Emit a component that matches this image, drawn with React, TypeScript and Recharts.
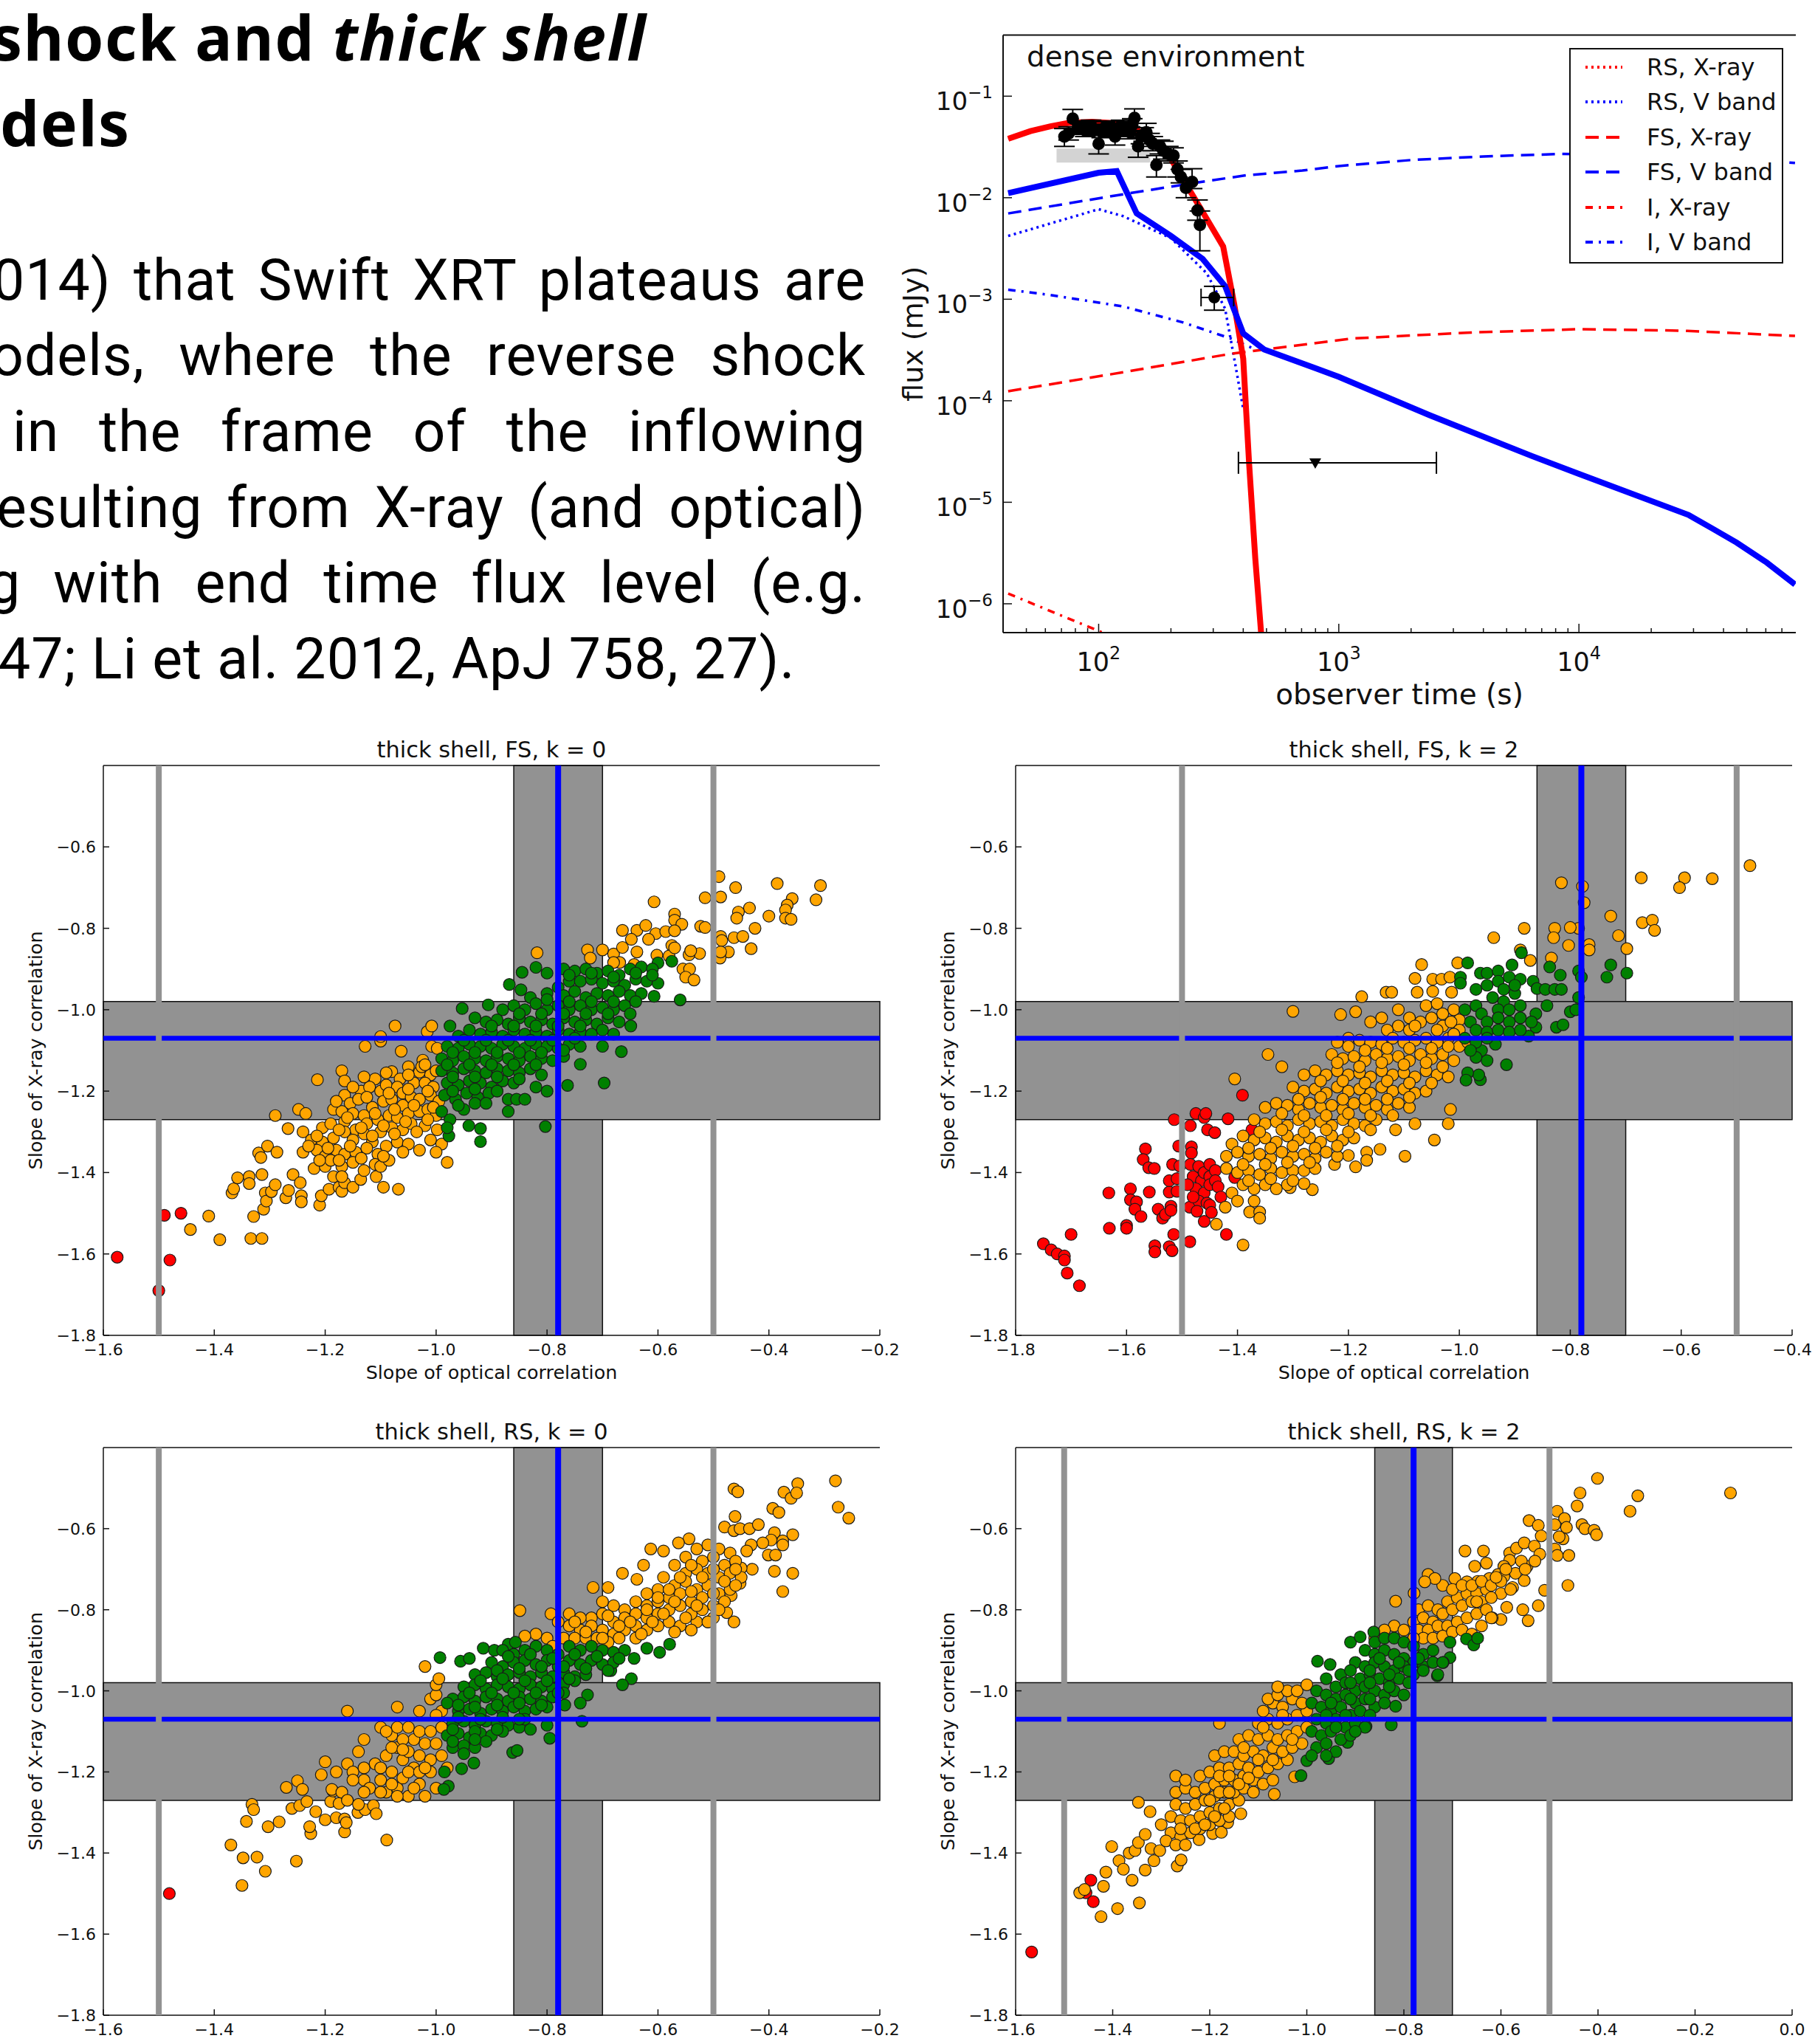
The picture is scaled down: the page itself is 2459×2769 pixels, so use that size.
// Slide: flux light curve plus four slope-correlation scatter panels
import {
  ComposedChart, Line, Scatter, ErrorBar, XAxis, YAxis, ReferenceArea, ReferenceLine, Legend
} from 'recharts';

// ---- light curve (observer time, flux) ----
const timeMajor = [100, 1000, 10000];
const timeTicks = [50, 60, 70, 80, 90, 100, 200, 300, 400, 500, 600, 700, 800, 900, 1000, 2000, 3000, 4000, 5000, 6000, 7000, 8000, 9000, 10000, 20000, 30000, 40000, 50000, 60000, 70000];
const fluxTicks = [1e-6, 1e-5, 1e-4, 1e-3, 1e-2, 1e-1];

const rsXrayT = [42, 52, 63, 75, 94, 120, 141, 200, 267, 330, 367, 400, 423, 449, 475];
const rsXrayF = [0.038, 0.0453, 0.0505, 0.0545, 0.056, 0.054, 0.049, 0.024, 0.0077, 0.0033, 0.00089, 0.00026, 2.45e-5, 2.8e-6, 5.1e-7];
const totalVT = [42, 100, 119, 144, 200, 271, 336, 400, 489, 1000, 2390, 6380, 10000, 28600, 36000, 45400, 60500, 79400];
const totalVF = [0.0111, 0.0176, 0.0183, 0.007, 0.0042, 0.0025, 0.00135, 0.00046, 0.00032, 0.000172, 7.2e-5, 2.85e-5, 1.9e-5, 7.5e-6, 5.5e-6, 4e-6, 2.55e-6, 1.55e-6];
const fsVT = [42, 117, 251, 410, 705, 1000, 2000, 4000, 8500, 30000, 79400];
const fsVF = [0.007, 0.0105, 0.014, 0.0166, 0.0185, 0.0205, 0.0235, 0.0255, 0.027, 0.026, 0.022];
const fsXT = [42, 112, 355, 1130, 3550, 10000, 27000, 79400];
const fsXF = [1.24e-4, 1.82e-4, 2.9e-4, 4.1e-4, 4.7e-4, 5.07e-4, 4.9e-4, 4.35e-4];
const rsVT = [42, 100, 126, 200, 282, 336, 367, 400];
const rsVF = [0.0042, 0.0077, 0.0066, 0.004, 0.0018, 0.00081, 0.00026, 8.3e-5];
const iVT = [42, 63, 126, 225, 355, 450];
const iVF = [0.00124, 0.0011, 0.00085, 0.00059, 0.00041, 0.00032];
const iXT = [42, 106, 130];
const iXF = [1.26e-6, 5.1e-7, 3.5e-7];

const obsTime = [72, 75, 78, 82, 85, 88, 90, 93, 96, 100, 103, 106, 110, 113, 117, 120, 124, 128, 131, 135, 138, 141, 146, 150, 154, 158, 163, 168, 174, 180, 186, 195, 205, 213, 220, 231, 245, 258, 264];
const obsFlux = [0.04, 0.043, 0.06, 0.048, 0.05, 0.046, 0.049, 0.051, 0.047, 0.034, 0.045, 0.049, 0.046, 0.05, 0.04, 0.047, 0.051, 0.046, 0.049, 0.044, 0.052, 0.061, 0.032, 0.04, 0.042, 0.044, 0.037, 0.034, 0.021, 0.032, 0.029, 0.027, 0.026, 0.019, 0.016, 0.0125, 0.0143, 0.0075, 0.0054];
const obsDown = [0.008, 0.006, 0.012, 0.006, 0.006, 0.006, 0.006, 0.006, 0.006, 0.007, 0.006, 0.006, 0.006, 0.006, 0.007, 0.006, 0.006, 0.006, 0.006, 0.006, 0.007, 0.012, 0.007, 0.006, 0.006, 0.006, 0.005, 0.005, 0.005, 0.005, 0.005, 0.004, 0.004, 0.003, 0.002, 0.0025, 0.002, 0.0015, 0.0024];
const obsUp = [0.008, 0.007, 0.014, 0.007, 0.007, 0.006, 0.007, 0.007, 0.006, 0.008, 0.006, 0.007, 0.006, 0.007, 0.007, 0.007, 0.007, 0.006, 0.007, 0.006, 0.008, 0.014, 0.007, 0.006, 0.007, 0.01, 0.006, 0.006, 0.005, 0.005, 0.007, 0.005, 0.005, 0.004, 0.003, 0.003, 0.005, 0.002, 0.002];
const lateObs = [{ t: 303, f: 0.00104, fErr: [0.00026, 0.0003], tErr: [36, 62] }];
const upperLimit = [{ t: 798, f: 2.45e-5, tErr: [416, 1752] }];

const legendLabels = ['RS, X-ray', 'RS, V band', 'FS, X-ray', 'FS, V band', 'I, X-ray', 'I, V band'];
const legendColors = ['#ff0000', '#0000ff', '#ff0000', '#0000ff', '#ff0000', '#0000ff'];
const dotted = '3 5';
const dashed = '18 10';
const dashDot = '10 8 3 8';
const legendDashes = [dotted, dotted, dashed, dashed, dashDot, dashDot];

// ---- scatter panels: flat x,y lists ----
const fsK0Red = [-1.575,-1.608,-1.49,-1.505,-1.46,-1.5,-1.48,-1.615,-1.5,-1.69];
const fsK0Orange = [-.49,-.673,-.46,-.7,-.385,-.69,-.307,-.695,-.515,-.725,-.487,-.723,-.358,-.727,-.367,-.743,-.315,-.73,-.607,-.735,-.435,-.75,-.455,-.76,-.458,-.775,-.4,-.77,-.37,-.755,-.37,-.775,-.36,-.778,-.57,-.765,-.57,-.78,-.557,-.79,-.523,-.795,-.515,-.798,-.425,-.8,-.487,-.82,-.485,-.83,-.463,-.823,-.447,-.82,-.432,-.85,-.473,-.858,-.488,-.873,-.487,-.858,-.525,-.862,-.544,-.865,-.541,-.855,-.555,-.9,-.543,-.9,-.55,-.92,-.535,-.927,
-.664,-.805,-.638,-.805,-.622,-.793,-.604,-.813,-.586,-.808,-.57,-.806,-.7,-.853,-.727,-.853,-.722,-.873,-.68,-.863,-.664,-.847,-.648,-.827,-.638,-.858,-.602,-.866,-.575,-.842,-.58,-.868,-.643,-.889,-.669,-.884,-.68,-.884,-.57,-.848,-.818,-.86,-.617,-.827,
-1.41,-1.507,-1.443,-1.54,-1.39,-1.565,-1.334,-1.562,-1.314,-1.562,-1.329,-1.508,-1.311,-1.49,-1.368,-1.45,-1.365,-1.44,-1.358,-1.413,-1.337,-1.41,-1.337,-1.427,-1.314,-1.405,-1.308,-1.45,-1.306,-1.47,-1.297,-1.447,-1.29,-1.43,-1.32,-1.352,-1.316,-1.363,-1.304,-1.335,-1.287,-1.35,-1.29,-1.26,-1.267,-1.292,-1.248,-1.245,-1.235,-1.255,-1.214,-1.172,-1.271,-1.462,-1.266,-1.444,-1.258,-1.405,-1.245,-1.425,-1.243,-1.457,-1.243,-1.472,-1.21,-1.48,-1.207,-1.457,-1.193,-1.441,-1.175,-1.436,-1.17,-1.446,-1.165,-1.425,-1.15,-1.436,-1.136,-1.417,-1.108,-1.41,-1.095,-1.436,-1.068,-1.441,
-1.17,-1.15,-1.165,-1.175,-1.135,-1.2,-1.11,-1.17,-1.08,-1.152,-1.065,-1.17,-1.05,-1.14,-1.03,-1.153,-1.01,-1.16,-1,-1.15,-1.165,-1.21,-1.155,-1.23,-1.14,-1.22,-1.12,-1.19,-1.1,-1.2,-1.09,-1.185,-1.07,-1.19,-1.06,-1.205,-1.04,-1.18,-1.02,-1.18,-1.005,-1.19,-1.185,-1.245,-1.17,-1.25,-1.15,-1.255,-1.13,-1.26,-1.115,-1.24,-1.095,-1.225,-1.08,-1.22,-1.06,-1.235,-1.045,-1.215,-1.03,-1.22,-1.01,-1.21,-.995,-1.225,-1.205,-1.29,-1.19,-1.28,-1.165,-1.275,-1.145,-1.295,-1.125,-1.28,-1.105,-1.27,-1.085,-1.26,-1.07,-1.265,-1.05,-1.255,-1.03,-1.25,-1.015,-1.245,-1,-1.26,-1.24,-1.3,-1.225,-1.32,-1.205,-1.325,-1.185,-1.315,-1.165,-1.3,-1.15,-1.32,-1.13,-1.305,-1.115,-1.325,-1.1,-1.3,-1.08,-1.29,-1.06,-1.295,-1.045,-1.28,-1.02,-1.285,-.998,-1.295,-1.24,-1.35,-1.215,-1.345,-1.2,-1.36,-1.18,-1.345,-1.165,-1.355,-1.145,-1.35,-1.125,-1.34,-1.105,-1.355,-1.09,-1.335,-1.07,-1.325,-1.05,-1.33,-1.03,-1.345,-1.01,-1.32,-.99,-1.33,-1,-1.35,-.98,-1.375,-1.22,-1.39,-1.2,-1.385,-1.185,-1.41,-1.17,-1.385,-1.15,-1.375,-1.13,-1.395,-1.11,-1.38,-1.1,-1.385,-1.085,-1.37,-1.19,-1.37,-1.17,-1.41,
-1.128,-1.09,-1.1,-1.077,-1.1,-1.066,-1.074,-1.04,-1.063,-1.102,-1.016,-1.054,-1.008,-1.04,-1.008,-1.09,-.998,-1.095,-1.024,-1.124,-1.026,-1.14,
-1.15,-1.19,-1.13,-1.165,-1.09,-1.155,-1.05,-1.16,-1.02,-1.135,-1.18,-1.225,-1.125,-1.215,-1.085,-1.205,-1.05,-1.195,-1.015,-1.2,-1.16,-1.265,-1.11,-1.255,-1.075,-1.245,-1.04,-1.235,-1.005,-1.24,-1.215,-1.31,-1.175,-1.295,-1.135,-1.29,-1.095,-1.285,-1.055,-1.275,-1.015,-1.27,-1.23,-1.335,-1.195,-1.34,-1.155,-1.335,-1.115,-1.31,-1.075,-1.305,-1.035,-1.3,-1.21,-1.37,-1.175,-1.37,-1.135,-1.365,-1.095,-1.36,-1.06,-1.35];
const fsK0Green = [-.803,-1.287,-.92,-1.292,-.92,-1.324,-.941,-1.285,-.977,-1.31,-.868,-.938,-.845,-.908,-.82,-.896,-.847,-.951,-.8,-.91,-.56,-.976,-.575,-.881,-.6,-.885,-.607,-.967,-.649,-1.04,-.666,-1.103,-.697,-1.18,-.7,-1.09,-.763,-1.186,-.8,-1.2,-.74,-1.134,-.953,-.997,-.975,-1.04,-.906,-.988,
-.77,-.9,-.75,-.905,-.73,-.9,-.71,-.91,-.69,-.905,-.67,-.915,-.65,-.9,-.63,-.895,-.61,-.9,-.76,-.93,-.74,-.93,-.72,-.925,-.7,-.935,-.68,-.93,-.66,-.94,-.64,-.925,-.62,-.93,-.6,-.935,-.78,-.945,-.83,-.97,-.8,-.96,-.77,-.965,-.75,-.955,-.73,-.97,-.71,-.96,-.69,-.965,-.67,-.955,-.65,-.965,-.63,-.96,-.88,-1,-.86,-.99,-.84,-1,-.82,-.985,-.8,-1,-.78,-.99,-.76,-1,-.74,-.99,-.72,-1,-.7,-.995,-.68,-1,-.66,-.99,-.65,-1.01,-.93,-1.02,-.91,-1.03,-.89,-1.025,-.87,-1.035,-.85,-1.02,-.83,-1.03,-.81,-1.025,-.79,-1.035,-.77,-1.02,-.75,-1.03,-.73,-1.025,-.71,-1.035,-.69,-1.02,-.67,-1.03,-.96,-1.065,-.94,-1.05,-.92,-1.06,-.9,-1.055,-.88,-1.065,-.86,-1.05,-.84,-1.06,-.82,-1.055,-.8,-1.065,-.78,-1.05,-.76,-1.06,-.74,-1.055,-.72,-1.06,-.68,-1.06,-.98,-1.09,-.96,-1.095,-.94,-1.085,-.92,-1.09,-.9,-1.095,-.88,-1.085,-.86,-1.09,-.84,-1.095,-.82,-1.085,-.8,-1.09,-.78,-1.095,-.76,-1.085,-.74,-1.09,-.99,-1.12,-.97,-1.125,-.95,-1.115,-.93,-1.12,-.91,-1.125,-.89,-1.115,-.87,-1.12,-.85,-1.125,-.83,-1.115,-.81,-1.12,-.79,-1.125,-.77,-1.115,-.99,-1.15,-.97,-1.155,-.95,-1.145,-.93,-1.15,-.91,-1.155,-.89,-1.145,-.87,-1.15,-.85,-1.155,-.83,-1.145,-.81,-1.16,-.98,-1.18,-.96,-1.185,-.94,-1.175,-.92,-1.18,-.9,-1.19,-.88,-1.175,-.86,-1.18,-.82,-1.19,-.985,-1.21,-.965,-1.22,-.945,-1.205,-.925,-1.215,-.905,-1.205,-.87,-1.22,-.855,-1.22,-.84,-1.22,-.87,-1.25,-.99,-1.25,-.975,-1.27,-.95,-1.245,-.93,-1.23,-.98,-1.29,
-.76,-.915,-.72,-.91,-.68,-.92,-.64,-.91,-.61,-.915,-.8,-.975,-.76,-.98,-.72,-.98,-.68,-.98,-.64,-.98,-.85,-1.01,-.81,-1.01,-.77,-1.01,-.73,-1.01,-.69,-1.01,-.9,-1.04,-.86,-1.04,-.82,-1.04,-.78,-1.04,-.74,-1.04,-.7,-1.05,-.95,-1.075,-.91,-1.075,-.87,-1.075,-.83,-1.075,-.79,-1.075,-.75,-1.07,-.97,-1.105,-.93,-1.105,-.89,-1.105,-.85,-1.105,-.81,-1.105,-.77,-1.1,-.98,-1.135,-.94,-1.135,-.9,-1.135,-.86,-1.135,-.82,-1.135,-.97,-1.165,-.93,-1.165,-.89,-1.165,-.85,-1.17,-.97,-1.2,-.93,-1.195,-.89,-1.2,-.96,-1.235,-.91,-1.23];

const fsK2Red = [-1.75,-1.575,-1.736,-1.59,-1.725,-1.6,-1.712,-1.605,-1.712,-1.615,-1.707,-1.647,-1.7,-1.552,-1.685,-1.678,-1.632,-1.45,-1.631,-1.537,-1.6,-1.53,-1.6,-1.537,-1.593,-1.44,-1.593,-1.467,-1.582,-1.472,-1.585,-1.49,-1.574,-1.508,-1.566,-1.342,-1.57,-1.368,-1.56,-1.388,-1.55,-1.39,-1.559,-1.448,-1.549,-1.58,-1.549,-1.595,-1.543,-1.49,-1.535,-1.512,-1.53,-1.503,-1.523,-1.448,-1.523,-1.42,-1.52,-1.483,-1.52,-1.493,-1.523,-1.582,-1.518,-1.592,-1.515,-1.552,-1.517,-1.38,-1.514,-1.27,-1.509,-1.415,-1.509,-1.446,-1.506,-1.335,-1.504,-1.384,-1.485,-1.285,-1.483,-1.337,-1.483,-1.352,-1.486,-1.57,-1.486,-1.485,-1.485,-1.38,-1.48,-1.41,-1.47,-1.385,-1.465,-1.42,-1.46,-1.4,-1.45,-1.38,-1.45,-1.41,-1.44,-1.395,-1.475,-1.44,-1.46,-1.45,-1.45,-1.43,-1.44,-1.42,-1.435,-1.435,-1.47,-1.47,-1.455,-1.475,-1.43,-1.46,-1.49,-1.43,-1.48,-1.46,-1.45,-1.48,-1.473,-1.495,-1.46,-1.52,-1.447,-1.498,-1.475,-1.255,-1.46,-1.265,-1.457,-1.255,-1.454,-1.295,-1.441,-1.302,-1.417,-1.268,-1.42,-1.552,-1.405,-1.412,-1.391,-1.21,-1.374,-1.295];
const fsK2Orange = [-.476,-.646,-.544,-.678,-.594,-.676,-.603,-.7,-.672,-.676,-.816,-.688,-.778,-.697,-.775,-.737,-.727,-.77,-.67,-.786,-.652,-.78,-.648,-.805,-.713,-.818,-.698,-.85,-.766,-.84,-.766,-.853,-.785,-.8,-.8,-.798,-.828,-.8,-.83,-.823,-.803,-.842,-.834,-.873,-.883,-.8,-.938,-.823,-.89,-.853,-.872,-.879,-1.003,-.885,-1.068,-.889,-1.08,-.923,-1.048,-.925,-1.032,-.925,-1.017,-.92,-1.132,-.957,-1.122,-.957,-1.176,-.968,-1.076,-.957,-1.048,-.955,-1.014,-.957,-1.3,-1.004,-1.214,-1.012,-1.187,-1.005,-1.345,-1.11,-1.405,-1.17,-1.32,-1.14,-1.045,-1.32,-1.098,-1.36,-1.016,-1.245,-1.02,-1.28,-1.08,-1.28,-1.115,-1.295,-1.143,-1.343,-1.167,-1.35,-1.167,-1.37,-1.187,-1.386,-1.2,-1.358,-1.225,-1.38,-1.265,-1.442,-1.28,-1.427,-1.305,-1.437,-1.39,-1.578,-1.378,-1.497,-1.36,-1.497,-1.36,-1.512,-1.438,-1.527,-1.422,-1.485,
-1.11,-1,-1.09,-1.02,-1.06,-.99,-1.04,-.985,-1.03,-1.01,-1.01,-1,-1,-1.025,-1.11,-1.04,-1.09,-1.05,-1.07,-1.03,-1.05,-1.02,-1.03,-1.04,-1.015,-1.03,-1,-1.05,-1.14,-1.02,-1.16,-1.03,-1.13,-1.05,-1.2,-1.07,-1.22,-1.08,-1.2,-1.09,-1.18,-1.075,-1.16,-1.08,-1.14,-1.085,-1.12,-1.07,-1.1,-1.08,-1.08,-1.075,-1.06,-1.07,-1.04,-1.08,-1.02,-1.07,-1,-1.09,-.985,-1.08,-1.23,-1.11,-1.21,-1.12,-1.19,-1.115,-1.17,-1.125,-1.15,-1.11,-1.13,-1.12,-1.11,-1.115,-1.09,-1.125,-1.07,-1.11,-1.05,-1.12,-1.03,-1.11,-1.01,-1.125,-1.28,-1.16,-1.26,-1.15,-1.24,-1.16,-1.22,-1.15,-1.2,-1.16,-1.18,-1.155,-1.16,-1.165,-1.14,-1.15,-1.12,-1.16,-1.1,-1.155,-1.08,-1.165,-1.06,-1.15,-1.04,-1.16,-1.02,-1.165,-1.3,-1.19,-1.28,-1.2,-1.26,-1.195,-1.24,-1.205,-1.22,-1.19,-1.2,-1.2,-1.18,-1.195,-1.16,-1.205,-1.14,-1.19,-1.12,-1.2,-1.1,-1.195,-1.08,-1.205,-1.06,-1.2,-1.35,-1.24,-1.33,-1.23,-1.31,-1.235,-1.29,-1.245,-1.27,-1.23,-1.25,-1.24,-1.23,-1.235,-1.21,-1.245,-1.19,-1.23,-1.17,-1.24,-1.15,-1.235,-1.13,-1.245,-1.11,-1.23,-1.09,-1.24,-1.37,-1.27,-1.35,-1.28,-1.33,-1.275,-1.31,-1.285,-1.29,-1.27,-1.27,-1.28,-1.25,-1.275,-1.23,-1.285,-1.21,-1.27,-1.19,-1.28,-1.17,-1.285,-1.15,-1.27,-1.41,-1.33,-1.39,-1.31,-1.37,-1.32,-1.35,-1.315,-1.33,-1.325,-1.31,-1.31,-1.29,-1.32,-1.27,-1.315,-1.25,-1.325,-1.23,-1.31,-1.21,-1.32,-1.19,-1.315,-1.42,-1.36,-1.4,-1.35,-1.38,-1.36,-1.36,-1.355,-1.34,-1.365,-1.32,-1.35,-1.3,-1.36,-1.28,-1.355,-1.26,-1.365,-1.24,-1.35,-1.22,-1.36,-1.42,-1.39,-1.4,-1.4,-1.38,-1.395,-1.36,-1.405,-1.34,-1.39,-1.32,-1.4,-1.3,-1.395,-1.28,-1.395,-1.26,-1.39,-1.41,-1.45,-1.39,-1.43,-1.37,-1.44,-1.35,-1.43,-1.33,-1.44,-1.31,-1.43,-1.4,-1.47,-1.37,-1.47,
-1.08,-1.04,-1.04,-1.05,-1.01,-1.06,-1.17,-1.1,-1.13,-1.095,-1.09,-1.095,-1.05,-1.095,-1.02,-1.09,-1.22,-1.13,-1.18,-1.14,-1.14,-1.13,-1.1,-1.135,-1.06,-1.13,-1.03,-1.14,-1.25,-1.175,-1.21,-1.175,-1.17,-1.18,-1.13,-1.175,-1.09,-1.18,-1.05,-1.18,-1.29,-1.22,-1.25,-1.215,-1.21,-1.22,-1.17,-1.22,-1.13,-1.22,-1.09,-1.215,-1.32,-1.255,-1.28,-1.26,-1.24,-1.26,-1.2,-1.255,-1.16,-1.26,-1.12,-1.26,-1.36,-1.3,-1.32,-1.295,-1.28,-1.3,-1.24,-1.295,-1.2,-1.3,-1.16,-1.295,-1.38,-1.34,-1.34,-1.34,-1.3,-1.335,-1.26,-1.34,-1.22,-1.335,-1.39,-1.38,-1.35,-1.38,-1.31,-1.375,-1.27,-1.375,-1.38,-1.42,-1.34,-1.415,-1.3,-1.42];
const fsK2Green = [-.985,-.885,-.998,-.92,-.998,-.935,-.962,-.91,-.95,-.91,-.93,-.905,-.905,-.89,-.888,-.86,-.837,-.895,-.818,-.915,-.785,-.905,-.78,-.92,-.727,-.89,-.734,-.92,-.698,-.91,-.867,-.93,-.86,-.948,-.845,-.95,-.828,-.95,-.816,-.95,-.785,-.97,-.842,-.99,-.8,-1.005,-.79,-1,-.825,-1.043,-.813,-1.037,-.862,-1.01,-.862,-1.043,-.875,-1.065,-.915,-1.135,-.95,-1.125,-.962,-1.172,-.965,-1.16,-.985,-1.155,-.988,-1.173,-.935,-1.085,-.96,-1.1,-.97,-1.117,-.99,-1,-.97,-.99,-.96,-1.01,-.94,-.97,-.92,-.98,-.9,-.96,-.93,-1,-.91,-1,-.89,-.99,-.97,-.95,-.95,-.94,-.93,-.93,-.91,-.92,-.89,-.925,-.95,-1.03,-.93,-1.02,-.91,-1.03,-.89,-1.02,-.98,-1.03,-.97,-1.05,-.95,-1.055,-.93,-1.05,-.91,-1.055,-.89,-1.05,-.87,-1.03,-.99,-1.07,-.97,-1.08,-.95,-1.07,-.98,-1.1,-.92,-.95,-.9,-.94];

const rsK0Red = [-1.481,-1.5];
const rsK0Orange = [-.28,-.482,-.275,-.547,-.256,-.574,-.463,-.502,-.456,-.509,-.348,-.489,-.373,-.51,-.36,-.525,-.35,-.512,-.393,-.55,-.382,-.56,-.461,-.57,-.48,-.596,-.463,-.605,-.452,-.6,-.435,-.6,-.419,-.59,-.39,-.61,-.357,-.615,-.396,-.628,-.375,-.63,-.375,-.64,-.411,-.635,-.432,-.64,-.44,-.655,-.401,-.665,-.388,-.665,-.39,-.705,-.357,-.71,-.375,-.755,-.43,-.7,-.45,-.697,-.452,-.735,-.468,-.765,-.476,-.807,-.463,-.83,-.51,-.83,-.53,-.83,-.544,-.625,-.563,-.635,-.59,-.655,-.613,-.65,-.626,-.69,-.638,-.725,-.664,-.71,-.717,-.745,-.69,-.745,-.849,-.802,-.793,-.81,
-.55,-.67,-.53,-.65,-.51,-.64,-.49,-.65,-.47,-.66,-.52,-.68,-.5,-.67,-.48,-.69,-.46,-.68,-.57,-.69,-.55,-.71,-.53,-.7,-.51,-.71,-.49,-.72,-.47,-.71,-.45,-.72,-.59,-.72,-.57,-.74,-.55,-.73,-.53,-.75,-.51,-.74,-.49,-.76,-.47,-.75,-.6,-.75,-.62,-.76,-.58,-.77,-.56,-.76,-.54,-.78,-.52,-.77,-.5,-.79,-.48,-.78,-.64,-.78,-.62,-.79,-.6,-.78,-.58,-.8,-.56,-.79,-.54,-.81,-.52,-.8,-.5,-.82,-.66,-.8,-.68,-.79,-.7,-.78,-.64,-.81,-.62,-.82,-.6,-.81,-.58,-.83,-.56,-.84,-.54,-.85,-.72,-.82,-.7,-.81,-.68,-.83,-.66,-.82,-.64,-.84,-.62,-.85,-.6,-.84,-.76,-.81,-.74,-.82,-.76,-.84,-.74,-.85,-.72,-.84,-.7,-.85,-.68,-.86,-.66,-.85,-.64,-.87,-.78,-.83,-.77,-.87,-.75,-.87,-.73,-.87,-.71,-.87,-.69,-.88,-.8,-.87,-.82,-.86,-.79,-.89,-.84,-.865,
-1.37,-1.38,-1.348,-1.412,-1.323,-1.41,-1.308,-1.445,-1.35,-1.48,-1.252,-1.42,-1.089,-1.368,-1.165,-1.348,-1.226,-1.352,-1.228,-1.335,-1.342,-1.322,-1.303,-1.335,-1.283,-1.323,-1.332,-1.28,-1.329,-1.293,-1.26,-1.29,-1.246,-1.283,-1.233,-1.273,-1.217,-1.298,-1.2,-1.318,-1.18,-1.313,-1.165,-1.316,-1.162,-1.325,-1.141,-1.3,-1.128,-1.293,-1.113,-1.283,-1.108,-1.303,-1.27,-1.238,-1.25,-1.222,-1.241,-1.243,-1.19,-1.273,-1.175,-1.278,-1.186,-1.247,-1.188,-1.243,-1.207,-1.207,-1.2,-1.175,
-1.18,-1.2,-1.16,-1.18,-1.15,-1.2,-1.14,-1.15,-1.13,-1.22,-1.12,-1.24,-1.11,-1.18,-1.1,-1.22,-1.09,-1.25,-1.08,-1.2,-1.07,-1.24,-1.06,-1.17,-1.06,-1.215,-1.05,-1.26,-1.04,-1.19,-1.03,-1.23,-1.02,-1.26,-1.01,-1.2,-1,-1.24,-1.09,-1.16,-1.07,-1.14,-1.05,-1.15,-1.04,-1.12,-1.03,-1.16,-1.02,-1.13,-1.01,-1.17,-.99,-1.16,-.98,-1.19,-1.08,-1.11,-1.07,-1.09,-1.06,-1.12,-1.05,-1.09,-1.03,-1.1,-1.01,-1.1,-1,-1.13,-.99,-1.09,-1.1,-1.09,-1.09,-1.1,-1.13,-1.12,-1.16,-1.05,-1.07,-1.04,-1.03,-1.05,-1.01,-1.02,-1,-1.01,-1,-.985,-1.02,-.94,-.995,-.97,-.99,-1.05,-1,-1.06,
-.54,-.69,-.5,-.7,-.46,-.7,-.56,-.72,-.52,-.72,-.48,-.73,-.46,-.74,-.58,-.75,-.54,-.755,-.5,-.76,-.6,-.77,-.57,-.78,-.53,-.79,-.49,-.8,-.62,-.8,-.59,-.81,-.55,-.82,-.51,-.83,-.65,-.83,-.61,-.83,-.57,-.855,-.69,-.815,-.67,-.84,-.63,-.86,-.73,-.855,-.7,-.87,-.67,-.87,-.75,-.83,-1.15,-1.22,-1.13,-1.19,-1.1,-1.19,-1.08,-1.23,-1.05,-1.2,-1.03,-1.2,-1.13,-1.25,-1.1,-1.25,-1.07,-1.26,-1.04,-1.24,-1.08,-1.14,-1.06,-1.145,-1.02,-1.19,-1.17,-1.25,-1.16,-1.27,-1.14,-1.28];
const rsK0Green = [-.993,-.918,-.956,-.927,-.94,-.92,-.915,-.895,-.895,-.9,-.87,-.885,-.857,-.88,-.579,-.885,-.597,-.905,-.62,-.895,-.643,-.92,-.648,-.97,-.664,-.985,-.685,-.95,-.727,-1.01,-.74,-1.03,-.737,-1.075,-.768,-1.035,-.795,-1.117,-.862,-1.152,-.854,-1.147,-.932,-1.178,-.954,-1.192,-.985,-1.2,-.978,-1.235,-.986,-1.243,
-.88,-.9,-.86,-.91,-.84,-.9,-.82,-.89,-.8,-.9,-.78,-.91,-.76,-.89,-.74,-.9,-.72,-.89,-.7,-.9,-.68,-.905,-.66,-.9,-.9,-.93,-.88,-.94,-.86,-.93,-.84,-.925,-.82,-.935,-.8,-.925,-.78,-.94,-.76,-.925,-.74,-.935,-.72,-.925,-.7,-.935,-.68,-.93,-.93,-.96,-.91,-.955,-.89,-.965,-.87,-.96,-.85,-.955,-.83,-.965,-.81,-.955,-.79,-.965,-.77,-.955,-.75,-.965,-.73,-.96,-.95,-.99,-.93,-.985,-.91,-.995,-.89,-.985,-.87,-.99,-.85,-.995,-.83,-.985,-.81,-.99,-.79,-.995,-.77,-.985,-.75,-.975,-.97,-1.02,-.95,-1.015,-.93,-1.025,-.91,-1.015,-.89,-1.02,-.87,-1.025,-.85,-1.015,-.83,-1.02,-.81,-1.025,-.79,-1.015,-.77,-1.005,-.98,-1.03,-.96,-1.05,-.94,-1.045,-.92,-1.055,-.9,-1.045,-.88,-1.05,-.86,-1.04,-.84,-1.05,-.82,-1.045,-.8,-1.04,-.97,-1.08,-.95,-1.075,-.93,-1.085,-.91,-1.075,-.89,-1.08,-.87,-1.085,-.85,-1.09,-.83,-1.095,-.8,-1.085,-.98,-1.11,-.96,-1.105,-.94,-1.115,-.92,-1.105,-.9,-1.11,-.88,-1.1,-.97,-1.14,-.95,-1.135,-.93,-1.14,-.91,-1.125,
-.87,-.915,-.83,-.91,-.79,-.92,-.75,-.91,-.71,-.915,-.67,-.92,-.89,-.95,-.85,-.945,-.81,-.94,-.77,-.94,-.73,-.945,-.69,-.95,-.92,-.975,-.88,-.97,-.84,-.975,-.8,-.975,-.76,-.97,-.94,-1.005,-.9,-1.005,-.86,-1.005,-.82,-1.005,-.78,-1.005,-.96,-1.035,-.93,-1.04,-.89,-1.035,-.85,-1.03,-.81,-1.035,-.96,-1.065,-.92,-1.07,-.88,-1.065,-.84,-1.07,-.97,-1.095,-.93,-1.1,-.89,-1.095,-.85,-1.07,-.97,-1.125,-.93,-1.12,-.95,-1.155];

const rsK2Red = [-1.567,-1.644,-1.445,-1.467,-1.455,-1.498,-1.44,-1.52];
const rsK2Orange = [-.127,-.512,-.401,-.476,-.318,-.519,-.334,-.557,-.437,-.512,-.443,-.544,-.484,-.557,-.469,-.575,-.489,-.59,-.465,-.597,-.472,-.625,-.48,-.62,-.433,-.59,-.427,-.6,-.408,-.604,-.403,-.615,-.542,-.58,-.523,-.592,-.517,-.618,-.489,-.65,-.484,-.666,-.46,-.666,-.462,-.74,-.51,-.752,-.523,-.79,-.555,-.8,-.544,-.827,-.588,-.794,-.6,-.824,-.618,-.82,-.674,-.655,-.636,-.655,-.63,-.685,-.654,-.693,-.582,-.66,-.568,-.648,-.552,-.635,-.531,-.643,-.52,-.663,-.546,-.693,-.558,-.68,-.582,-.678,-.594,-.693,-.606,-.713,-.594,-.718,-.576,-.745,-.552,-.728,-.624,-.723,-.648,-.73,-.67,-.731,-.695,-.723,-.72,-.74,-.75,-.713,-.736,-.723,-.757,-.731,-.779,-.759,-.817,-.779,
-.77,-.8,-.75,-.79,-.73,-.8,-.71,-.78,-.69,-.77,-.67,-.76,-.65,-.76,-.63,-.75,-.78,-.83,-.76,-.82,-.74,-.83,-.72,-.81,-.7,-.8,-.68,-.79,-.66,-.78,-.64,-.78,-.77,-.85,-.75,-.85,-.73,-.84,-.71,-.84,-.69,-.83,-.67,-.82,-.65,-.81,-.63,-.8,-.76,-.87,-.74,-.87,-.72,-.865,-.7,-.855,-.68,-.85,-.66,-.86,-.64,-.84,-.62,-.82,-.82,-.84,-.8,-.85,-.84,-.85,-.86,-.87,-.78,-.87,-.7,-.75,-.68,-.74,-.66,-.74,-.64,-.73,-.62,-.74,-.6,-.76,-.58,-.75,-.62,-.77,-.65,-.78,-.6,-.73,-.57,-.71,-.55,-.7,-.53,-.68,-.59,-.7,-.61,-.72,
-1.402,-1.384,-1.347,-1.275,-1.323,-1.298,-1.387,-1.419,-1.378,-1.44,-1.414,-1.447,-1.419,-1.482,-1.36,-1.467,-1.39,-1.537,-1.345,-1.523,-1.424,-1.557,-1.468,-1.498,-1.458,-1.49,-1.333,-1.442,-1.315,-1.419,-1.321,-1.389,-1.303,-1.394,-1.366,-1.4,-1.354,-1.394,-1.347,-1.374,-1.333,-1.354,-1.267,-1.432,-1.259,-1.417,-1.256,-1.374,-1.222,-1.367,-1.194,-1.352,-1.176,-1.349,-1.163,-1.325,-1.136,-1.303,-1.067,-1.255,-1.025,-1.212,
-1.3,-1.33,-1.28,-1.35,-1.26,-1.36,-1.24,-1.35,-1.22,-1.34,-1.2,-1.33,-1.18,-1.32,-1.16,-1.31,-1.28,-1.31,-1.26,-1.32,-1.24,-1.32,-1.22,-1.31,-1.2,-1.3,-1.18,-1.29,-1.16,-1.28,-1.14,-1.27,-1.27,-1.28,-1.25,-1.29,-1.23,-1.28,-1.21,-1.27,-1.19,-1.26,-1.17,-1.25,-1.15,-1.25,-1.13,-1.24,-1.11,-1.25,-1.27,-1.25,-1.25,-1.24,-1.23,-1.25,-1.21,-1.24,-1.19,-1.23,-1.17,-1.22,-1.15,-1.22,-1.13,-1.21,-1.11,-1.22,-1.09,-1.23,-1.07,-1.22,-1.27,-1.21,-1.25,-1.22,-1.22,-1.21,-1.2,-1.2,-1.18,-1.19,-1.16,-1.19,-1.14,-1.18,-1.12,-1.19,-1.1,-1.2,-1.08,-1.19,-1.06,-1.18,-1.04,-1.17,-1.19,-1.16,-1.17,-1.15,-1.15,-1.15,-1.13,-1.16,-1.11,-1.15,-1.09,-1.16,-1.07,-1.14,-1.05,-1.15,-1.03,-1.14,-1.01,-1.13,-1.14,-1.12,-1.12,-1.11,-1.1,-1.12,-1.08,-1.11,-1.06,-1.12,-1.04,-1.11,-1.02,-1.1,-1,-1.09,-1.1,-1.08,-1.08,-1.07,-1.06,-1.08,-1.04,-1.07,-1.02,-1.06,-1,-1.05,-1.09,-1.05,-1.07,-1.03,-1.05,-1.04,-1.03,-1.02,-1.01,-1.03,-1.08,-1.02,-1.06,-1.01,-1.04,-1,-1.02,-1,-1,-.985,-1.06,-.99,-1.18,-1.08,
-1.29,-1.37,-1.27,-1.38,-1.25,-1.38,-1.26,-1.34,-1.23,-1.34,-1.21,-1.33,-1.19,-1.31,-1.17,-1.29,-1.2,-1.27,-1.18,-1.25,-1.16,-1.25,-1.14,-1.23,-1.12,-1.215,-1.18,-1.21,-1.16,-1.21,-1.1,-1.17,-1.07,-1.17,-1.03,-1.12,-1.13,-1.14,-1.09,-1.09,-1.05,-1.06];
const rsK2Green = [-.978,-.927,-.952,-.935,-.91,-.88,-.89,-.867,-.862,-.855,-.671,-.872,-.656,-.887,-.648,-.87,-.705,-.88,-.705,-.918,-.719,-.93,-.731,-.963,-.826,-1.084,-.817,-1.038,-.878,-1.088,-.916,-1.127,-.955,-1.167,-1,-1.172,-1.012,-1.209,
-.86,-.88,-.84,-.87,-.82,-.87,-.8,-.88,-.78,-.89,-.76,-.91,-.74,-.9,-.88,-.9,-.86,-.91,-.84,-.9,-.82,-.91,-.8,-.92,-.78,-.93,-.76,-.94,-.74,-.93,-.72,-.93,-.9,-.93,-.88,-.94,-.86,-.93,-.84,-.94,-.82,-.95,-.8,-.94,-.78,-.96,-.76,-.95,-.73,-.96,-.93,-.96,-.91,-.95,-.89,-.97,-.87,-.96,-.85,-.97,-.83,-.98,-.81,-.97,-.79,-.98,-.96,-.97,-.94,-.99,-.92,-.98,-.9,-1,-.88,-.99,-.86,-1,-.84,-1.01,-.82,-1,-.8,-1.01,-.98,-1,-.96,-1.01,-.94,-1.02,-.92,-1.01,-.9,-1.03,-.88,-1.02,-.86,-1.04,-.84,-1.03,-.99,-1.03,-.97,-1.04,-.95,-1.05,-.93,-1.04,-.91,-1.06,-.89,-1.05,-.87,-1.06,-.98,-1.07,-.96,-1.08,-.94,-1.07,-.92,-1.09,-.9,-1.08,-.88,-1.09,-.99,-1.1,-.97,-1.11,-.95,-1.1,-.93,-1.12,-.91,-1.11,-.98,-1.14,-.96,-1.13,-.94,-1.15,-.96,-1.16,-.99,-1.16,
-.85,-.92,-.81,-.93,-.77,-.92,-.87,-.95,-.83,-.96,-.79,-.95,-.91,-.98,-.87,-.98,-.83,-.99,-.95,-1.03,-.91,-1.02,-.87,-1.02,-.96,-1.06,-.92,-1.06,-.94,-1.09,-.9,-1.1];

const slopeYTicks = [-1.8, -1.6, -1.4, -1.2, -1.0, -0.8, -0.6];
const ticksFrom16 = [-1.6, -1.4, -1.2, -1.0, -0.8, -0.6, -0.4, -0.2];
const ticksFrom18 = [-1.8, -1.6, -1.4, -1.2, -1.0, -0.8, -0.6, -0.4];
const ticksTo0 = [-1.6, -1.4, -1.2, -1.0, -0.8, -0.6, -0.4, -0.2, 0];

const INK = '#111';
const BAND = '#929292';
const BLUE = '#0000ff';

const toPoints = (flat: number[]) => {
  const out: { x: number; y: number }[] = [];
  for (let i = 0; i < flat.length; i += 2) out.push({ x: flat[i], y: flat[i + 1] });
  return out;
};
const pairs = (t: number[], f: number[]) => t.map((v, i) => ({ t: v, f: f[i] }));
const fmtSlope = (v: number) => (v < 0 ? '\u2212' : '') + Math.abs(v).toFixed(1);

// ticks point inwards, matplotlib style
const bottomTick = (p: any) => (
  <g>
    <line x1={p.x} y1={p.y} x2={p.x} y2={p.y - 8} stroke={INK} strokeWidth={1.5} />
    <text x={p.x} y={p.y + 27} textAnchor="middle" fontSize={22} fill={INK}>{fmtSlope(p.payload.value)}</text>
  </g>
);
const topTick = (p: any) => <line x1={p.x} y1={p.y} x2={p.x} y2={p.y + 8} stroke={INK} strokeWidth={1.5} />;
const leftTick = (p: any) => (
  <g>
    <line x1={p.x} y1={p.y} x2={p.x + 8} y2={p.y} stroke={INK} strokeWidth={1.5} />
    <text x={p.x - 10} y={p.y + 8} textAnchor="end" fontSize={22} fill={INK}>{fmtSlope(p.payload.value)}</text>
  </g>
);
const rightTick = (p: any) => <line x1={p.x} y1={p.y} x2={p.x - 8} y2={p.y} stroke={INK} strokeWidth={1.5} />;

const dot = (fill: string) => (p: any) => (
  <circle cx={p.cx} cy={p.cy} r={8} fill={fill} stroke="#1a1a1a" strokeWidth={1.2} />
);

interface PanelProps {
  title: string;
  left: number;
  top: number;
  titleGap: number;
  xDomain: [number, number];
  xTicks: number[];
  red: number[];
  orange: number[];
  green: number[];
}

function SlopePanel({ title, left, top, titleGap, xDomain, xTicks, red, orange, green }: PanelProps) {
  const axisLine = { stroke: INK, strokeWidth: 1.5 };
  return (
    <div style={{ position: 'absolute', left, top }}>
      <ComposedChart width={1240} height={902} margin={{ top: 0, right: 48, bottom: 0, left: 0 }}>
        <XAxis type="number" dataKey="x" domain={xDomain} ticks={xTicks} interval={0} allowDataOverflow height={70}
          axisLine={axisLine} tickLine={false} tickSize={0} tickMargin={0} tick={bottomTick}
          label={{ value: 'Slope of optical correlation', position: 'insideBottom', offset: 11, style: { fontSize: 25.4, fill: INK } }} />
        <XAxis xAxisId="top" orientation="top" type="number" domain={xDomain} ticks={xTicks} interval={0} allowDataOverflow height={titleGap}
          axisLine={axisLine} tickLine={false} tickSize={0} tickMargin={0} tick={topTick}
          label={{ value: title, position: 'insideTop', offset: titleGap - 33, style: { fontSize: 30.4, fill: INK } }} />
        <YAxis type="number" dataKey="y" domain={[-1.8, -0.4]} ticks={slopeYTicks} interval={0} allowDataOverflow width={140}
          axisLine={axisLine} tickLine={false} tickSize={0} tickMargin={0} tick={leftTick}
          label={{ value: 'Slope of X-ray correlation', angle: -90, position: 'insideLeft', offset: 48, style: { fontSize: 25.5, fill: INK, textAnchor: 'middle' } }} />
        <YAxis yAxisId="right" orientation="right" type="number" domain={[-1.8, -0.4]} ticks={slopeYTicks} interval={0} allowDataOverflow width={0}
          axisLine={axisLine} tickLine={false} tickSize={0} tickMargin={0} tick={rightTick} />

        <ReferenceArea x1={-0.86} x2={-0.7} fill={BAND} fillOpacity={1} stroke={INK} strokeWidth={1.5} />
        <ReferenceArea y1={-1.27} y2={-0.98} fill={BAND} fillOpacity={1} stroke={INK} strokeWidth={1.5} />

        <Scatter data={toPoints(red)} dataKey="y" shape={dot('#ff0000')} isAnimationActive={false} />
        <Scatter data={toPoints(orange)} dataKey="y" shape={dot('#ffa500')} isAnimationActive={false} />
        <Scatter data={toPoints(green)} dataKey="y" shape={dot('#008000')} isAnimationActive={false} />

        <ReferenceLine y={-1.07} stroke={BLUE} strokeWidth={6.5} zIndex={700} />
        <ReferenceLine x={-0.78} stroke={BLUE} strokeWidth={8} zIndex={700} />
        <ReferenceLine x={-1.5} stroke={BAND} strokeWidth={8} zIndex={710} />
        <ReferenceLine x={-0.5} stroke={BAND} strokeWidth={8} zIndex={710} />
      </ComposedChart>
    </div>
  );
}

const logBottomTick = (p: any) => {
  const major = timeMajor.includes(p.payload.value);
  const exp = Math.round(Math.log10(p.payload.value));
  return (
    <g>
      <line x1={p.x} y1={p.y} x2={p.x} y2={p.y - (major ? 12 : 6)} stroke={INK} strokeWidth={1.5} />
      {major && (
        <text x={p.x} y={p.y + 52} textAnchor="middle" fontSize={35} fill={INK}>
          10<tspan dy={-16} fontSize={24}>{exp}</tspan>
        </text>
      )}
    </g>
  );
};
const logTopTick = (p: any) => {
  const major = timeMajor.includes(p.payload.value);
  return <line x1={p.x} y1={p.y} x2={p.x} y2={p.y + (major ? 12 : 6)} stroke={INK} strokeWidth={1.5} />;
};
const logLeftTick = (p: any) => {
  const exp = Math.round(Math.log10(p.payload.value));
  return (
    <g>
      <line x1={p.x} y1={p.y} x2={p.x + 12} y2={p.y} stroke={INK} strokeWidth={1.5} />
      <text x={p.x - 14} y={p.y + 19} textAnchor="end" fontSize={34} fill={INK}>
        10<tspan dy={-16} fontSize={23}>{'\u2212' + Math.abs(exp)}</tspan>
      </text>
    </g>
  );
};
const logRightTick = (p: any) => <line x1={p.x} y1={p.y} x2={p.x - 12} y2={p.y} stroke={INK} strokeWidth={1.5} />;

const LegendBox = () => (
  <div style={{ width: 290, height: 292, boxSizing: 'border-box', background: '#fff', border: `2px solid ${INK}`, position: 'relative', fontSize: 32, color: INK }}>
    {legendLabels.map((label, i) => (
      <div key={label} style={{ position: 'absolute', left: 0, top: 4 + i * 47.4, height: 40, width: 288, lineHeight: '40px' }}>
        <svg width={80} height={40} style={{ position: 'absolute', left: 0, top: 0 }}>
          <line x1={20} x2={70} y1={20} y2={20} stroke={legendColors[i]} strokeWidth={4} strokeDasharray={legendDashes[i]} />
        </svg>
        <span style={{ position: 'absolute', left: 103, whiteSpace: 'nowrap' }}>{label}</span>
      </div>
    ))}
  </div>
);

function LightCurve() {
  const axisLine = { stroke: INK, strokeWidth: 2 };
  const domX: [number, number] = [40, 80000];
  const domY: [number, number] = [5.2e-7, 0.4];
  const line = (t: number[], f: number[], color: string, width: number, dash?: string) => (
    <Line data={pairs(t, f)} dataKey="f" type="linear" dot={false} stroke={color} strokeWidth={width}
      strokeDasharray={dash} strokeLinejoin="miter" isAnimationActive={false} legendType="none" />
  );
  return (
    <div style={{ position: 'absolute', left: 1200, top: 0 }}>
      <ComposedChart width={1259} height={967} margin={{ top: 0, right: 26, bottom: 0, left: 0 }}>
        <XAxis type="number" dataKey="t" scale="log" domain={domX} ticks={timeTicks} interval={0} allowDataOverflow height={110}
          axisLine={axisLine} tickLine={false} tickSize={0} tickMargin={0} tick={logBottomTick}
          label={{ value: 'observer time (s)', position: 'insideBottom', offset: 13, style: { fontSize: 39, fill: INK } }} />
        <XAxis xAxisId="top" orientation="top" type="number" scale="log" domain={domX} ticks={timeTicks} interval={0} allowDataOverflow height={47.5}
          axisLine={axisLine} tickLine={false} tickSize={0} tickMargin={0} tick={logTopTick} />
        <YAxis type="number" dataKey="f" scale="log" domain={domY} ticks={fluxTicks} interval={0} allowDataOverflow width={159}
          axisLine={axisLine} tickLine={false} tickSize={0} tickMargin={0} tick={logLeftTick}
          label={{ value: 'flux (mJy)', angle: -90, position: 'insideLeft', offset: 37, style: { fontSize: 38, fill: INK, textAnchor: 'middle' } }} />
        <YAxis yAxisId="right" orientation="right" type="number" scale="log" domain={domY} ticks={fluxTicks} interval={0} allowDataOverflow width={0}
          axisLine={axisLine} tickLine={false} tickSize={0} tickMargin={0} tick={logRightTick} />

        <ReferenceArea x1={66.8} x2={164} y1={0.0222} y2={0.0305} fill="#d3d3d3" fillOpacity={1} stroke="none" />

        {line(rsXrayT, rsXrayF, '#ff0000', 3, dotted)}
        {line(rsVT, rsVF, BLUE, 3.5, dotted)}
        {line(fsXT, fsXF, '#ff0000', 3.5, dashed)}
        {line(fsVT, fsVF, BLUE, 3.5, dashed)}
        {line(iXT, iXF, '#ff0000', 3.5, dashDot)}
        {line(iVT, iVF, BLUE, 3.5, dashDot)}
        {line(rsXrayT, rsXrayF, '#ff0000', 8)}
        {line(totalVT, totalVF, BLUE, 8)}

        <Scatter data={obsTime.map((t, i) => ({ t, f: obsFlux[i], fErr: [obsDown[i], obsUp[i]] }))} dataKey="f" isAnimationActive={false}
          shape={(p: any) => <circle cx={p.cx} cy={p.cy} r={8.5} fill="#000" />}>
          <ErrorBar dataKey="fErr" direction="y" width={14} stroke="#000" strokeWidth={2} isAnimationActive={false} />
        </Scatter>
        <Scatter data={lateObs} dataKey="f" isAnimationActive={false}
          shape={(p: any) => <circle cx={p.cx} cy={p.cy} r={8} fill="#000" />}>
          <ErrorBar dataKey="fErr" direction="y" width={14} stroke="#000" strokeWidth={2} isAnimationActive={false} />
          <ErrorBar dataKey="tErr" direction="x" width={12} stroke="#000" strokeWidth={2} isAnimationActive={false} />
        </Scatter>
        <Scatter data={upperLimit} dataKey="f" isAnimationActive={false}
          shape={(p: any) => <path d={`M${p.cx - 8} ${p.cy - 6}L${p.cx + 8} ${p.cy - 6}L${p.cx} ${p.cy + 8}Z`} fill="#000" />}>
          <ErrorBar dataKey="tErr" direction="x" width={15} stroke="#000" strokeWidth={2} isAnimationActive={false} />
        </Scatter>

        <Legend layout="vertical" align="center" verticalAlign="middle" content={<LegendBox />}
          wrapperStyle={{ left: 926, top: 65, width: 290, height: 292, bottom: 'auto', right: 'auto' }} />
      </ComposedChart>
      <div style={{ position: 'absolute', left: 191, top: 54, fontSize: 38.8, color: INK, whiteSpace: 'nowrap' }}>dense environment</div>
    </div>
  );
}

const bodyLines = [
  { text: '014) that Swift XRT plateaus are', left: -10, baseline: 407, justify: true },
  { text: 'odels, where the reverse shock', left: -12, baseline: 509, justify: true },
  { text: 'in the frame of the inflowing', left: 17, baseline: 612, justify: true },
  { text: 'esulting from X-ray (and optical)', left: -5, baseline: 715, justify: true },
  { text: 'g with end time flux level (e.g.', left: -16, baseline: 817, justify: true },
  { text: '47; Li et al. 2012, ApJ 758, 27).', left: -2, baseline: 920, justify: false },
];

export default function App() {
  const bodySize = 77;
  const titleSize = 84;
  const titleFont = '"Noto Sans"';
  const titleStyle = { position: 'absolute' as const, fontFamily: titleFont, fontWeight: 700, fontSize: titleSize, letterSpacing: 1.6, lineHeight: 1, whiteSpace: 'nowrap' as const, color: '#000' };
  return (
    <div style={{ position: 'fixed', left: 0, top: 0, width: 2459, height: 2769, overflow: 'hidden', background: '#fff', fontFamily: '"DejaVu Sans", sans-serif' }}>
      <div style={{ ...titleStyle, left: -12, top: 83 - 0.888 * titleSize }}>
        shock and <i>thick shell</i>
      </div>
      <div style={{ ...titleStyle, left: 0, top: 199 - 0.888 * titleSize }}>
        dels
      </div>
      {bodyLines.map((l) => (
        <div key={l.text} style={{
          position: 'absolute', left: l.left, top: l.baseline - 0.8415 * bodySize, width: 1173 - l.left,
          fontFamily: 'Roboto', fontSize: bodySize, letterSpacing: 1, lineHeight: 1, color: '#000',
          textAlign: 'left', textAlignLast: l.justify ? 'justify' : 'left',
        }}>{l.text}</div>
      ))}

      <LightCurve />
      <SlopePanel title="thick shell, FS, k = 0" left={0} top={977} titleGap={60} xDomain={[-1.6, -0.2]} xTicks={ticksFrom16} red={fsK0Red} orange={fsK0Orange} green={fsK0Green} />
      <SlopePanel title="thick shell, FS, k = 2" left={1236} top={977} titleGap={60} xDomain={[-1.8, -0.4]} xTicks={ticksFrom18} red={fsK2Red} orange={fsK2Orange} green={fsK2Green} />
      <SlopePanel title="thick shell, RS, k = 0" left={0} top={1898} titleGap={63} xDomain={[-1.6, -0.2]} xTicks={ticksFrom16} red={rsK0Red} orange={rsK0Orange} green={rsK0Green} />
      <SlopePanel title="thick shell, RS, k = 2" left={1236} top={1898} titleGap={63} xDomain={[-1.6, 0]} xTicks={ticksTo0} red={rsK2Red} orange={rsK2Orange} green={rsK2Green} />
    </div>
  );
}
